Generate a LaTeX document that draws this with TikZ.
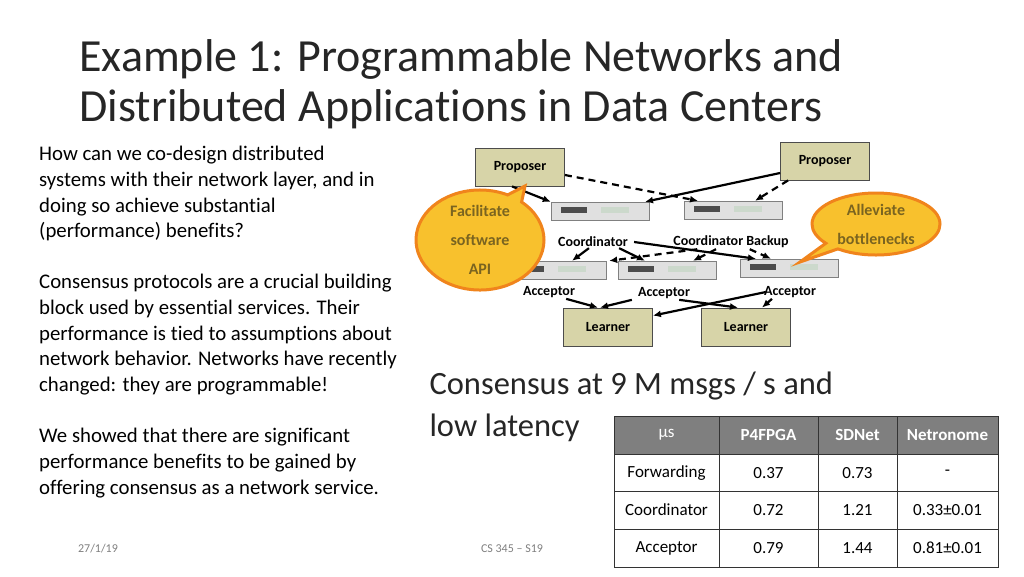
\documentclass[tikz,border=0pt]{standalone}
\usepackage{fontspec}
\setmainfont[Ligatures={NoCommon}]{Carlito}
\usetikzlibrary{arrows.meta,shapes.callouts}
\definecolor{boxfill}{HTML}{D7D4A8}
\definecolor{callfill}{HTML}{F8C12D}
\definecolor{callline}{HTML}{F0841C}
\definecolor{calltext}{HTML}{7A6420}
\definecolor{hdr}{HTML}{7F7F7F}
\tikzset{
 rolebox/.style={draw=black!70,line width=0.8pt,fill=boxfill,minimum width=89pt,minimum height=38pt,font=\fontsize{14}{16}\selectfont\bfseries,inner sep=0pt},
 sw/.style={draw=black!50,fill=black!12,minimum width=98pt,minimum height=18pt,inner sep=0pt},
 lab/.style={font=\fontsize{14}{16}\selectfont\bfseries,inner sep=1pt},
 arr/.style={-{Latex[length=8pt,width=7pt]},line width=2.2pt},
 darr/.style={arr,dash pattern=on 7pt off 5pt},
 callout/.style={ellipse callout,draw=callline,line width=3pt,fill=callfill,text=calltext,font=\fontsize{16}{29}\selectfont\bfseries,align=center,inner sep=0pt},
 cell/.style={font=\fontsize{17}{20}\selectfont,anchor=center},
 body/.style={anchor=north west,text width=380pt,align=flush left,inner sep=0pt,font=\fontsize{20.8}{25.7}\selectfont}
}
\begin{document}
\begin{tikzpicture}[x=1pt,y=-1pt]
\useasboundingbox[fill=white] (0,0) rectangle (1024,576);
\node[anchor=west,font=\fontsize{46}{50}\selectfont,align=left,text=black!85] (title) at (76,84) {Example 1: Programmable Networks and\\Distributed Applications in Data Centers};
\node[body] (p1) at (39,146) {How can we co-design distributed\\systems with their network layer, and in\\doing so achieve substantial\\(performance) benefits?};
\node[body] (p2) at (39,274) {Consensus protocols are a crucial building\\block used by essential services. Their\\performance is tied to assumptions about\\network behavior. Networks have recently\\changed: they are programmable!};
\node[body] (p3) at (39,428) {We showed that there are significant\\performance benefits to be gained by\\offering consensus as a network service.};

% switches
\foreach \n/\x/\y in {sc/600/211,sb/733/210,a1/557/270,a2/667/270,a3/789/268}{
 \node[sw] (\n) at (\x,\y) {};
 \fill[black!70] ([xshift=10pt,yshift=-2pt]\n.west) rectangle +(26,-6);
 \fill[green!25!black!20] ([xshift=50pt,yshift=-2pt]\n.west) rectangle +(28,-6);
}
\node[rolebox] (pl) at (520,167) {Proposer};
\node[rolebox] (pr) at (825,161) {Proposer};
\node[rolebox] (l1) at (608,327) {Learner};
\node[rolebox] (l2) at (746,327) {Learner};
\node[lab] (lc) at (593,242) {Coordinator};
\node[lab] (lb) at (731,242) {Coordinator Backup};
\node[lab] (la1) at (549,292) {Acceptor};
\node[lab] (la2) at (664,293) {Acceptor};
\node[lab] (la3) at (790,292) {Acceptor};

\draw[arr] (pl.south) ++(-8,0) -- (sc.north west);
\draw[arr] (pr.west) ++(0,12) -- ([xshift=45pt]sc.north);
\draw[darr] (pl.east) ++(0,8) -- ([xshift=-35pt]sb.north);
\draw[darr] (pr.south west) ++(8,0) -- ([xshift=22pt]sb.north);
\draw[arr] (lc.south west) ++(32,0) -- ([xshift=15pt]a1.north);
\draw[arr] (lc.south east) ++(-10,0) -- ([xshift=-22pt]a2.north);
\draw[arr] (lc.east) ++(5,0) -- ([xshift=-33pt]a3.north);
\draw[darr] (lb.south west) ++(25,0) -- ([xshift=3pt]a1.north east);
\draw[darr] (lb.south) ++(-15,0) -- ([xshift=26pt]a2.north);
\draw[darr] (lb.south east) ++(-40,0) -- ([xshift=-18pt]a3.north);
\draw[arr] (la1.south east) ++(-10,0) -- ([xshift=-10pt]l1.north);
\draw[arr] (la2.south west) ++(-5,0) -- ([xshift=-8pt]l1.north);
\draw[arr] (la2.south east) ++(-12,0) -- ([xshift=-8pt]l2.north);
\draw[arr] (la3.west) ++(3,0) -- ([yshift=-8pt]l1.north east);
\draw[arr] (la3.south) ++(-18,0) -- ([xshift=16pt]l2.north);

\node[callout,minimum width=128pt,minimum height=100pt,callout absolute pointer={(525,186)}] (c1) at (480,240) {Facilitate\\software\\API};
\node[callout,minimum width=128pt,minimum height=62pt,callout absolute pointer={(800,262)}] (c2) at (876,224) {Alleviate\\bottlenecks};

\node[anchor=west,font=\fontsize{32.5}{42}\selectfont,align=left,text=black!85] (cons) at (426,407) {Consensus at 9 M msgs / s and\\low latency};

% table
\fill[hdr] (614,416) rectangle (998,454);
\foreach \xa/\xb in {614/719,719/818,818/897,897/998}{
 \foreach \ya/\yb in {416/454,454/491,491/529,529/567}{
  \draw[draw=black!80,line width=0.8pt] (\xa,\ya) rectangle (\xb,\yb);
 }}
\node[cell,text=white] (h1) at (666.5,435) {µs};
\node[cell,text=white,font=\fontsize{17}{20}\selectfont\bfseries] (h2) at (768.5,435) {P4FPGA};
\node[cell,text=white,font=\fontsize{17}{20}\selectfont\bfseries] (h3) at (857.5,435) {SDNet};
\node[cell,text=white,font=\fontsize{17}{20}\selectfont\bfseries] (h4) at (947.5,435) {Netronome};
\foreach \a/\b/\cc/\d/\y [count=\i] in {Forwarding/0.37/0.73/-/473,Coordinator/0.72/1.21/0.33±0.01/510,Acceptor/0.79/1.44/0.81±0.01/548}{
 \node[cell] (r\i a) at (666.5,\y) {\a};
 \node[cell] (r\i b) at (768.5,\y) {\b};
 \node[cell] (r\i c) at (857.5,\y) {\cc};
 \node[cell] (r\i d) at (947.5,\y) {\d};
}
\node[font=\fontsize{12}{14}\selectfont,text=black!50] (date) at (98,549) {27/1/19};
\node[font=\fontsize{12}{14}\selectfont,text=black!50] (course) at (512,549) {CS 345 – S19};
\end{tikzpicture}
\end{document}
